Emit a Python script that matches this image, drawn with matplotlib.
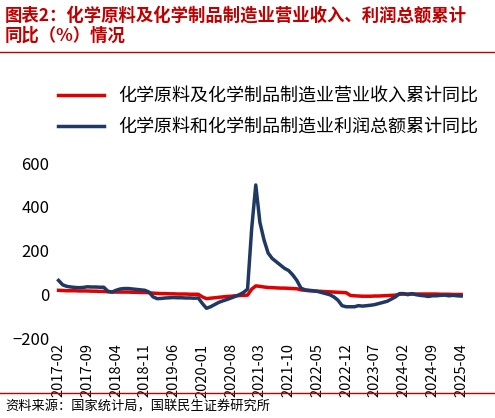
import matplotlib
matplotlib.use("Agg")
import matplotlib.pyplot as plt
import pandas as pd

plt.rcParams['font.family'] = ['Noto Sans CJK SC', 'DejaVu Sans']

months = pd.date_range("2017-02", "2025-04", freq="MS").strftime("%Y-%m").tolist()
revenue = [20,19,18,18,18,17,17,17,16,16,15,
           15,13,12,12,12,12,12,11,11,10,10,9,
           7,6,5,5,4,4,3,3,3,2,2,2,
           -10,-18,-16,-14,-12,-10,-8,-7,-5,-4,-3,-2,
           25,40,38,35,33,32,31,30,30,29,28,27,
           22,20,18,17,16,15,14,13,12,11,10,9,
           -3,-5,-6,-7,-7,-7,-6,-6,-5,-4,-3,-2,
           2,3,3,3,3,3,3,3,3,3,2,2,
           2,1,1,1]
profit = [65,45,38,35,33,32,33,36,35,35,34,
          34,16,12,20,26,28,28,26,24,22,20,12,
          -10,-18,-17,-15,-14,-13,-14,-14,-15,-15,-16,-15,
          -40,-62,-55,-45,-35,-28,-22,-15,-8,0,10,25,
          300,500,330,250,190,165,150,135,120,110,90,65,
          30,22,20,18,15,10,5,0,-10,-25,-50,-55,
          -55,-55,-50,-52,-50,-48,-45,-40,-35,-30,-20,-10,
          5,5,0,5,0,-3,-5,-8,-5,-5,-3,-2,
          -5,-3,-5,-6]
labels = ["化学原料及化学制品制造业营业收入累计同比", "化学原料和化学制品制造业利润总额累计同比"]
title = "图表2：化学原料及化学制品制造业营业收入、利润总额累计\n同比（%）情况"
source = "资料来源：国家统计局，国联民生证券研究所"

fig = plt.figure(figsize=(4.95, 4.18), dpi=100)
ax = fig.add_axes([0.11, 0.19, 0.83, 0.42])
x = range(len(months))
ax.plot(x, revenue, color="#E00000", lw=2.5, label=labels[0])
ax.plot(x, profit, color="#1F3864", lw=2.5, label=labels[1])
ax.set_ylim(-200, 600)
ax.set_yticks([-200, 0, 200, 400, 600])
ax.set_xlim(-1, len(months))
ticks = list(range(0, len(months), 7))
ax.set_xticks(ticks)
ax.set_xticklabels([months[i] for i in ticks], rotation=90, fontsize=10.5)
ax.tick_params(axis="y", labelsize=12)
ax.tick_params(length=0)
for s in ax.spines.values():
    s.set_visible(False)
ax.legend(loc="lower left", bbox_to_anchor=(-0.03, 1.06), frameon=False, fontsize=13,
          handlelength=2.5, labelspacing=0.7)

fig.text(0.01, 0.985, title, color="#C00000", fontsize=12.5, fontweight="bold",
         va="top", linespacing=1.2)
fig.add_artist(plt.Line2D([0.0, 1.0], [0.875, 0.875], color="#C00000", lw=1))
fig.add_artist(plt.Line2D([0.0, 1.0], [0.06, 0.06], color="#C00000", lw=1))
fig.text(0.01, 0.01, source, fontsize=9.5, va="bottom")
fig.savefig("out.png", dpi=100)
